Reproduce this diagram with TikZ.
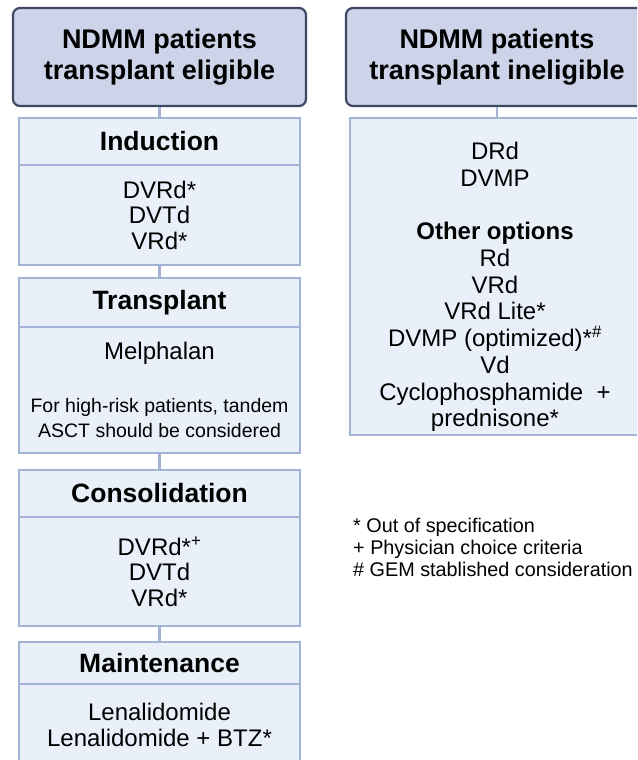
\documentclass[tikz,border=0pt]{standalone}
\usepackage{fontspec}
\setmainfont{Liberation Sans}
\usetikzlibrary{positioning}
\definecolor{headfill}{RGB}{205,211,232}
\definecolor{headline}{RGB}{62,72,98}
\definecolor{boxfill}{RGB}{234,240,250}
\definecolor{boxline}{RGB}{162,179,214}
\newcommand{\notefont}{\fontsize{19.5}{23.5}\selectfont}

\begin{document}
\begin{tikzpicture}[x=1pt, y=-1pt,
    header/.style={draw=headline, fill=headfill, line width=2.2pt, rounded corners=7pt,
                   minimum height=98pt, align=center, inner sep=0pt,
                   font=\fontsize{27}{30.5}\selectfont\bfseries},
    stagehead/.style={draw=boxline, fill=boxfill, line width=2.6pt, minimum width=281pt,
                      inner sep=0pt, font=\fontsize{26.5}{30}\selectfont\bfseries},
    stagebody/.style={draw=boxline, fill=boxfill, line width=2.6pt, minimum width=281pt,
                      align=center, inner sep=0pt, font=\fontsize{24}{25.5}\selectfont},
    link/.style={draw=boxline, line width=2.6pt},
]
\useasboundingbox (0,0) rectangle (637,760);
\clip (0,0) rectangle (637,760);

% Column headers
\node[header, minimum width=293pt] (elig) at (159.5,57) {NDMM patients\\transplant eligible};
\node[header, minimum width=302pt] (inelig) at (497,57) {NDMM patients\\transplant ineligible};

% --- Transplant eligible: stages ---
\node[stagehead, minimum height=47pt] (indhead) at (159.5,141.5) {Induction};
\node[stagebody, minimum height=100pt] (indbody) at (159.5,215) {DVRd*\\DVTd\\VRd*};

\node[stagehead, minimum height=49pt] (trphead) at (159.5,302.5) {Transplant};
\node[stagebody, minimum height=126pt] (trpbody) at (159.5,390)
    {Melphalan\\[27pt]\notefont For high-risk patients, tandem\\\notefont ASCT should be considered};

\node[stagehead, minimum height=47pt] (conhead) at (159.5,493.5) {Consolidation};
\node[stagebody, minimum height=109pt] (conbody) at (159.5,571.5)
    {DVRd*\textsuperscript{+}\\DVTd\\VRd*};

\node[stagehead, minimum height=42pt] (mnthead) at (159.5,663) {Maintenance};
\node[stagebody, minimum height=82pt] (mntbody) at (159.5,725) {Lenalidomide\\Lenalidomide + BTZ*};

% --- Transplant ineligible ---
\node[stagebody, minimum width=294pt, minimum height=317pt] (optbox) at (497,276.5) {};
\node[align=center, inner sep=0pt, font=\fontsize{24}{26.7}\selectfont] (opttext) at (495,287)
    {DRd\\DVMP\\[26.7pt]\textbf{Other options}\\Rd\\VRd\\VRd Lite*\\DVMP (optimized)*\textsuperscript{\#}\\Vd\\Cyclophosphamide\ \ +\\prednisone*};

% Connectors
\draw[link] (elig.south) -- (indhead.north);
\draw[link] (indbody.south) -- (trphead.north);
\draw[link] (trpbody.south) -- (conhead.north);
\draw[link] (conbody.south) -- (mnthead.north);
\draw[link] (inelig.south) -- (optbox.north);

% Legend
\node[anchor=north west, align=left, inner sep=0pt, font=\fontsize{19.8}{22}\selectfont] (legend) at (353,518)
    {* Out of specification\\+ Physician choice criteria\\\# GEM stablished consideration};
\end{tikzpicture}
\end{document}
